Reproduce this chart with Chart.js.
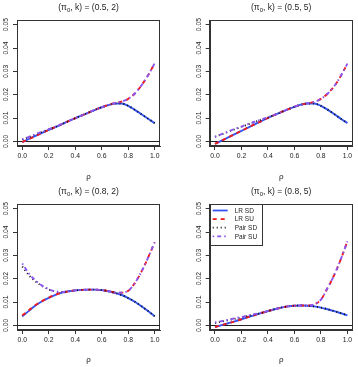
<!DOCTYPE html>
<html>
<head>
<meta charset="utf-8">
<script src="https://cdn.jsdelivr.net/npm/chart.js@4.4.0/dist/chart.umd.min.js"></script>
<style>
  html, body { margin: 0; padding: 0; background: #fff; }
  #wrap { position: relative; width: 358px; height: 367px; }
  canvas { position: absolute; }
</style>
</head>
<body>
<div id="wrap">
  <canvas id="p1" width="179" height="184" style="left:0;top:0"></canvas>
  <canvas id="p2" width="179" height="184" style="left:179px;top:0"></canvas>
  <canvas id="p3" width="179" height="183" style="left:0;top:184px"></canvas>
  <canvas id="p4" width="179" height="183" style="left:179px;top:184px"></canvas>
</div>
<script>
// rho grid and tick values
const rho = [0, 0.05, 0.1, 0.15, 0.2, 0.25, 0.3, 0.35, 0.4, 0.45, 0.5,
             0.55, 0.6, 0.65, 0.7, 0.75, 0.8, 0.85, 0.9, 0.95, 1];
const xTicks = [0, 0.2, 0.4, 0.6, 0.8, 1];
const yTicks = [0, 0.01, 0.02, 0.03, 0.04, 0.05];
const seriesNames = ["LR SD", "LR SU", "Pair SD", "Pair SU"];

// (pi0, k) = (0.5, 2)
const a_lrSd   = [-0.0003, 0.0010, 0.0023, 0.0036, 0.0049, 0.0061, 0.0074, 0.0087, 0.0099, 0.0111, 0.0123,
                  0.0135, 0.0146, 0.0155, 0.0162, 0.0162, 0.0152, 0.0135, 0.0116, 0.0097, 0.0078];
const a_lrSu   = [-0.0003, 0.0010, 0.0023, 0.0036, 0.0049, 0.0061, 0.0074, 0.0087, 0.0099, 0.0111, 0.0123,
                  0.0135, 0.0146, 0.0156, 0.0164, 0.0170, 0.0182, 0.0205, 0.0240, 0.0283, 0.0335];
const a_pairSd = [0.0007, 0.0018, 0.0029, 0.0040, 0.0051, 0.0062, 0.0074, 0.0087, 0.0099, 0.0111, 0.0123,
                  0.0135, 0.0146, 0.0155, 0.0162, 0.0162, 0.0152, 0.0135, 0.0116, 0.0097, 0.0078];
const a_pairSu = [0.0008, 0.0019, 0.0030, 0.0041, 0.0052, 0.0063, 0.0075, 0.0087, 0.0099, 0.0111, 0.0123,
                  0.0135, 0.0146, 0.0156, 0.0164, 0.0170, 0.0182, 0.0205, 0.0240, 0.0283, 0.0335];

// (pi0, k) = (0.5, 5)
const b_lrSd   = [-0.0011, 0.0003, 0.0017, 0.0031, 0.0045, 0.0059, 0.0073, 0.0087, 0.0100, 0.0113, 0.0125,
                  0.0137, 0.0148, 0.0157, 0.0162, 0.0162, 0.0152, 0.0136, 0.0117, 0.0097, 0.0078];
const b_lrSu   = [-0.0011, 0.0003, 0.0017, 0.0031, 0.0045, 0.0059, 0.0073, 0.0087, 0.0100, 0.0113, 0.0125,
                  0.0137, 0.0148, 0.0157, 0.0163, 0.0169, 0.0182, 0.0204, 0.0236, 0.0280, 0.0333];
const b_pairSd = [0.0019, 0.0030, 0.0041, 0.0052, 0.0062, 0.0073, 0.0083, 0.0093, 0.0102, 0.0113, 0.0125,
                  0.0137, 0.0148, 0.0157, 0.0162, 0.0162, 0.0152, 0.0136, 0.0117, 0.0097, 0.0078];
const b_pairSu = [0.0020, 0.0031, 0.0042, 0.0053, 0.0063, 0.0074, 0.0084, 0.0094, 0.0103, 0.0113, 0.0125,
                  0.0137, 0.0148, 0.0157, 0.0163, 0.0169, 0.0182, 0.0204, 0.0236, 0.0280, 0.0333];

// (pi0, k) = (0.8, 2)
const c_lrSd   = [0.0038, 0.0062, 0.0085, 0.0103, 0.0118, 0.0131, 0.0140, 0.0146, 0.0150, 0.0152, 0.0153,
                  0.0153, 0.0151, 0.0146, 0.0139, 0.0130, 0.0117, 0.0101, 0.0082, 0.0061, 0.0039];
const c_lrSu   = [0.0042, 0.0065, 0.0087, 0.0104, 0.0119, 0.0131, 0.0140, 0.0146, 0.0150, 0.0152, 0.0153,
                  0.0153, 0.0151, 0.0147, 0.0141, 0.0140, 0.0148, 0.0181, 0.0230, 0.0290, 0.0356];
const c_pairSd = [0.0252, 0.0215, 0.0188, 0.0168, 0.0154, 0.0145, 0.0142, 0.0146, 0.0150, 0.0152, 0.0153,
                  0.0153, 0.0151, 0.0146, 0.0139, 0.0130, 0.0117, 0.0101, 0.0082, 0.0061, 0.0039];
const c_pairSu = [0.0265, 0.0222, 0.0192, 0.0170, 0.0155, 0.0145, 0.0143, 0.0146, 0.0150, 0.0152, 0.0153,
                  0.0153, 0.0151, 0.0147, 0.0141, 0.0140, 0.0148, 0.0181, 0.0230, 0.0290, 0.0356];

// (pi0, k) = (0.8, 5)
const d_lrSd   = [-0.0007, 0.0001, 0.0009, 0.0017, 0.0026, 0.0035, 0.0044, 0.0053, 0.0061, 0.0069, 0.0076,
                  0.0081, 0.0084, 0.0085, 0.0084, 0.0081, 0.0076, 0.0069, 0.0061, 0.0052, 0.0043];
const d_lrSu   = [-0.0007, 0.0001, 0.0009, 0.0017, 0.0026, 0.0035, 0.0044, 0.0053, 0.0061, 0.0069, 0.0076,
                  0.0081, 0.0084, 0.0085, 0.0085, 0.0090, 0.0110, 0.0160, 0.0215, 0.0283, 0.0360];
const d_pairSd = [0.0010, 0.0016, 0.0022, 0.0028, 0.0034, 0.0040, 0.0046, 0.0053, 0.0061, 0.0069, 0.0076,
                  0.0081, 0.0084, 0.0085, 0.0084, 0.0081, 0.0076, 0.0069, 0.0061, 0.0052, 0.0043];
const d_pairSu = [0.0012, 0.0018, 0.0024, 0.0030, 0.0036, 0.0042, 0.0048, 0.0054, 0.0061, 0.0069, 0.0076,
                  0.0081, 0.0084, 0.0085, 0.0085, 0.0090, 0.0110, 0.0160, 0.0215, 0.0283, 0.0360];

const styles = [
  { color: "#3554f4", dash: [] },
  { color: "#f21a1a", dash: [4, 4] },
  { color: "#111111", dash: [1, 3] },
  { color: "#8a55f0", dash: [1.5, 3, 4, 3] }
];
const axisCol = "#333";
const font = "Liberation Sans, Arial, sans-serif";

function pts(ys) {
  return rho.map((x, i) => ({ x: x, y: ys[i] }));
}

// R-style box, zero line, rotated y labels, titles and legend
const rFrame = {
  id: "rFrame",
  beforeDatasetsDraw(chart) {
    const ctx = chart.ctx, a = chart.chartArea, y = chart.scales.y;
    ctx.save();
    ctx.strokeStyle = axisCol;
    ctx.lineWidth = 1;
    ctx.strokeRect(Math.round(a.left) + 0.5, Math.round(a.top) + 0.5,
                   Math.round(a.right - a.left) - 1, Math.round(a.bottom - a.top) - 1);
    const y0 = Math.round(y.getPixelForValue(0)) + 0.5;
    ctx.strokeStyle = "#222";
    ctx.beginPath();
    ctx.moveTo(a.left, y0);
    ctx.lineTo(a.right, y0);
    ctx.stroke();
    ctx.restore();
  },
  afterDraw(chart, args, o) {
    const ctx = chart.ctx, a = chart.chartArea, y = chart.scales.y;
    const cx = (a.left + a.right) / 2;
    ctx.save();
    ctx.fillStyle = "#222";
    // y tick labels, rotated like R
    ctx.font = "6.8px " + font;
    ctx.textAlign = "center";
    ctx.textBaseline = "middle";
    yTicks.forEach(v => {
      ctx.save();
      ctx.translate(a.left - 10.5, y.getPixelForValue(v));
      ctx.rotate(-Math.PI / 2);
      ctx.fillText(v.toFixed(2), 0, 0);
      ctx.restore();
    });
    // title with subscript
    const parts = [["(\u03c0", 8.5, 0], ["0", 6, 2], [", k) = " + o.title, 8.5, 0]];
    let w = 0;
    parts.forEach(p => { ctx.font = p[1] + "px " + font; w += ctx.measureText(p[0]).width; });
    let x = cx - w / 2;
    ctx.textAlign = "left";
    ctx.textBaseline = "middle";
    parts.forEach(p => {
      ctx.font = p[1] + "px " + font;
      ctx.fillText(p[0], x, 8 + p[2]);
      x += ctx.measureText(p[0]).width;
    });
    // x axis title
    ctx.font = "8px " + font;
    ctx.textAlign = "center";
    ctx.fillText("\u03c1", cx, chart.height - 7.5);
    // legend
    if (o.legend) {
      const lx = a.left, ly = a.top;
      ctx.strokeStyle = axisCol;
      ctx.lineWidth = 1;
      ctx.strokeRect(Math.round(lx) + 0.5, Math.round(ly) + 0.5, 52, 41);
      ctx.font = "6.5px " + font;
      ctx.textAlign = "left";
      seriesNames.forEach((n, i) => {
        const yy = ly + 6.5 + i * 8.6;
        ctx.strokeStyle = styles[i].color;
        ctx.lineWidth = 1.8;
        ctx.setLineDash(styles[i].dash);
        ctx.beginPath();
        ctx.moveTo(lx + 3, yy);
        ctx.lineTo(lx + 18, yy);
        ctx.stroke();
        ctx.setLineDash([]);
        ctx.fillStyle = "#222";
        ctx.fillText(n, lx + 25, yy + 0.5);
      });
    }
    ctx.restore();
  }
};

function makePanel(id, title, series, left, legend) {
  const canvas = document.getElementById(id);
  const W = canvas.width, H = canvas.height;
  const order = [4, 3, 2, 1];
  return new Chart(canvas, {
    type: "line",
    data: {
      datasets: series.map((ys, i) => ({
        label: seriesNames[i],
        data: pts(ys),
        borderColor: styles[i].color,
        borderDash: styles[i].dash,
        borderWidth: 1.9,
        pointRadius: 0,
        fill: false,
        cubicInterpolationMode: "monotone",
        order: order[i]
      }))
    },
    options: {
      responsive: false,
      animation: false,
      events: [],
      layout: { padding: { left: 0, right: W - (left + 143), top: 20, bottom: 0 } },
      plugins: {
        legend: { display: false },
        tooltip: { enabled: false },
        rFrame: { title: title, legend: legend }
      },
      scales: {
        x: {
          type: "linear",
          min: -0.04,
          max: 1.04,
          afterBuildTicks: s => { s.ticks = xTicks.map(v => ({ value: v })); },
          afterFit: s => { s.height = H - 146; },
          grid: { drawOnChartArea: false, tickLength: 4, color: axisCol },
          border: { color: axisCol },
          ticks: {
            autoSkip: false, maxRotation: 0, padding: 2, color: "#222",
            font: { size: 6.8, family: font },
            callback: v => v.toFixed(1)
          }
        },
        y: {
          type: "linear",
          min: -0.002,
          max: 0.052,
          afterBuildTicks: s => { s.ticks = yTicks.map(v => ({ value: v })); },
          afterFit: s => { s.width = left; },
          grid: { drawOnChartArea: false, tickLength: 4, color: axisCol },
          border: { color: axisCol },
          ticks: { display: false }
        }
      }
    },
    plugins: [rFrame]
  });
}

makePanel("p1", "(0.5, 2)", [a_lrSd, a_lrSu, a_pairSd, a_pairSu], 17, false);
makePanel("p2", "(0.5, 5)", [b_lrSd, b_lrSu, b_pairSd, b_pairSu], 30.7, false);
makePanel("p3", "(0.8, 2)", [c_lrSd, c_lrSu, c_pairSd, c_pairSu], 17, false);
makePanel("p4", "(0.8, 5)", [d_lrSd, d_lrSu, d_pairSd, d_pairSu], 30.7, true);
</script>
</body>
</html>
